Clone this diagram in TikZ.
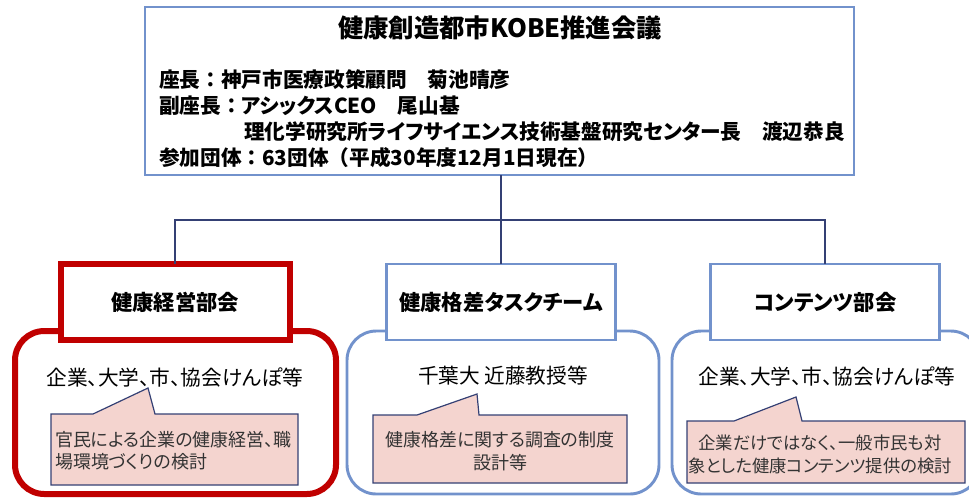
\documentclass[tikz,border=0pt]{standalone}
\usepackage{fontspec}
\newfontfamily\jp[RawFeature=+palt]{Noto Sans CJK JP}
\newfontfamily\jpw{Noto Sans CJK JP}
\newcommand{\fcolon}{{\jpw ：}}
\definecolor{kred}{RGB}{192,0,0}
\definecolor{kblue}{RGB}{114,146,204}
\definecolor{knavy}{RGB}{52,64,116}
\definecolor{kpink}{RGB}{244,212,207}
\begin{document}
\begin{tikzpicture}[x=0.75pt,y=-0.75pt,
  every node/.style={inner sep=0pt,outer sep=0pt},
  topbox/.style={draw=kblue,line width=2.2pt,fill=white,minimum width=531.75pt,minimum height=126pt},
  headbase/.style={fill=white,minimum width=171.75pt,minimum height=57pt,
    font=\jp\bfseries\fontsize{16}{19}\selectfont},
  redhead/.style={headbase,draw=kred,line width=4.5pt},
  bluehead/.style={headbase,draw=kblue,line width=2.2pt},
  groupbase/.style={rounded corners=22pt,minimum height=122.25pt},
  redgroup/.style={groupbase,draw=kred,line width=4.5pt},
  bluegroup/.style={groupbase,draw=kblue,line width=2.2pt},
  conn/.style={draw=knavy,line width=1.1pt},
  callout/.style={draw=knavy,line width=0.9pt,fill=kpink},
  bodytext/.style={font=\jp\bfseries\fontsize{15.5}{19}\selectfont,anchor=west},
  membertext/.style={font=\jp\fontsize{15.5}{19}\selectfont},
  pinktext/.style={font=\jp\fontsize{13.5}{17}\selectfont,text=black!80}
]
\useasboundingbox (0,0) rectangle (969,497);
% top box
\node[topbox] (top) at (499.5,91) {};
\node[font=\jp\bfseries\fontsize{19}{23}\selectfont] (title) at (500,28) {健康創造都市KOBE推進会議};
\node[bodytext] (chair) at (159,80) {座長\fcolon 神戸市医療政策顧問　菊池晴彦};
\node[bodytext] (vice) at (159,106) {副座長\fcolon アシックスCEO　尾山基};
\node[bodytext] (vice2) at (244,132) {理化学研究所ライフサイエンス技術基盤研究センター長　渡辺恭良};
\node[bodytext] (members) at (159,158) {参加団体\fcolon 63団体{\jpw （}平成30年度12月1日現在{\jpw ）}};
% group boxes
\node[redgroup,minimum width=240.75pt] (g1) at (175.5,412.5) {};
\node[bluegroup,minimum width=234pt] (g2) at (503,412.5) {};
\node[bluegroup,minimum width=231pt] (g3) at (826,412.5) {};
% headers and connectors
\coordinate (j) at (501,220);
\node[redhead] (h1) at (175,302) {健康経営部会};
\node[bluehead] (h2) at (501,302) {健康格差タスクチーム};
\node[bluehead] (h3) at (825,302) {コンテンツ部会};
\draw[conn] (top.south -| j) -- (j);
\draw[conn] (h1.north) |- (j) -| (h3.north);
\draw[conn] (j) -- (h2.north);
% member lines
\node[membertext] (m1) at (175,377) {企業、大学、市、協会けんぽ等};
\node[membertext] (m2) at (503,376) {千葉大 近藤教授等};
\node[membertext] (m3) at (827,376) {企業、大学、市、協会けんぽ等};
% callouts
\draw[callout] (51,414) -- (93,414) -- (148,388) -- (155,414) -- (298,414) -- (298,485) -- (51,485) -- cycle;
\draw[callout] (373,415) -- (417,415) -- (477,394) -- (479,415) -- (627,415) -- (627,483) -- (373,483) -- cycle;
\draw[callout] (687,421) -- (734,421) -- (796,397) -- (802,421) -- (965,421) -- (965,483) -- (687,483) -- cycle;
\node[pinktext,anchor=west,align=left] (c1) at (55,450.5) {官民による企業の健康経営、職\\場環境づくりの検討};
\node[pinktext,align=center] (c2) at (500,451) {健康格差に関する調査の制度\\設計等};
\node[pinktext,align=center,font=\jp\fontsize{13}{17}\selectfont] (c3) at (820,454.5) {企業だけではなく、一般市民も対\\象とした健康コンテンツ提供の検討};
\end{tikzpicture}
\end{document}
